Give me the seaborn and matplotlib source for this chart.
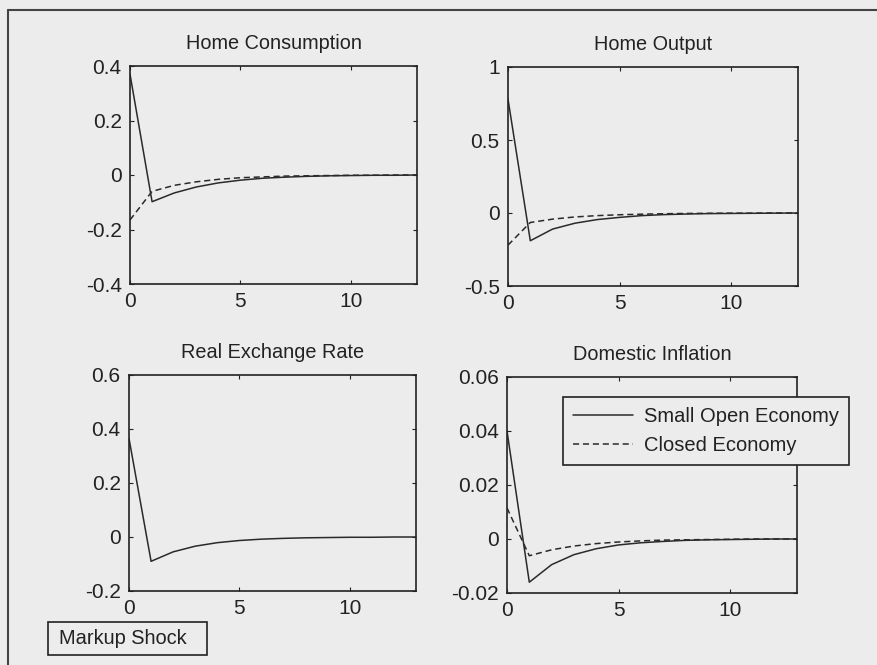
import numpy as np
import pandas as pd
import matplotlib
matplotlib.use("Agg")
import matplotlib.pyplot as plt
from matplotlib.lines import Line2D
from matplotlib.patches import Rectangle
import seaborn as sns

# Impulse responses to a markup shock, quarters 0..13
quarters = list(range(14))

cons_open = [0.37, -0.098, -0.066, -0.044, -0.029, -0.019, -0.012, -0.008, -0.005, -0.003, -0.002, -0.001, -0.001, 0.0]
cons_closed = [-0.165, -0.06, -0.038, -0.025, -0.016, -0.010, -0.007, -0.004, -0.003, -0.002, -0.001, -0.001, 0.0, 0.0]

out_open = [0.78, -0.19, -0.11, -0.07, -0.045, -0.03, -0.018, -0.011, -0.007, -0.004, -0.003, -0.002, -0.001, 0.0]
out_closed = [-0.22, -0.065, -0.042, -0.027, -0.018, -0.012, -0.008, -0.005, -0.003, -0.002, -0.001, -0.001, 0.0, 0.0]

rer_open = [0.365, -0.09, -0.055, -0.034, -0.021, -0.013, -0.008, -0.005, -0.003, -0.002, -0.001, -0.001, 0.0, 0.0]

infl_open = [0.040, -0.016, -0.0095, -0.0058, -0.0036, -0.0022, -0.0014, -0.0009, -0.0005, -0.0003, -0.0002, -0.0001, 0.0, 0.0]
infl_closed = [0.0115, -0.0062, -0.0040, -0.0026, -0.0017, -0.0011, -0.0007, -0.0004, -0.0003, -0.0002, -0.0001, 0.0, 0.0, 0.0]

titles = ["Home Consumption", "Home Output", "Real Exchange Rate", "Domestic Inflation"]
ylims = [(-0.4, 0.4), (-0.5, 1.0), (-0.2, 0.6), (-0.02, 0.06)]
yticks = [[-0.4, -0.2, 0, 0.2, 0.4], [-0.5, 0, 0.5, 1], [-0.2, 0, 0.2, 0.4, 0.6], [-0.02, 0, 0.02, 0.04, 0.06]]
yticklabels = [["-0.4", "-0.2", "0", "0.2", "0.4"], ["-0.5", "0", "0.5", "1"],
               ["-0.2", "0", "0.2", "0.4", "0.6"], ["-0.02", "0", "0.02", "0.04", "0.06"]]
xticks = [0, 5, 10]

series = [
    (cons_open, cons_closed),
    (out_open, out_closed),
    (rer_open, None),
    (infl_open, infl_closed),
]

bg = "#ececec"
ink = "#222222"
dash = (0, (4, 2.5))

sns.set_theme(style="white")
plt.rcParams["font.family"] = ["Liberation Sans", "DejaVu Sans"]

W, H = 877, 665
fig = plt.figure(figsize=(W / 100, H / 100), dpi=100, facecolor=bg)

# axes boxes in pixels: left, top, right, bottom
boxes = [(130, 66, 417, 284), (508, 67, 798, 286), (129, 375, 416, 591), (507, 377, 797, 593)]

for (l, t, r, b), title, ylim, yt, ytl, (s_open, s_closed) in zip(boxes, titles, ylims, yticks, yticklabels, series):
    ax = fig.add_axes([l / W, 1 - b / H, (r - l) / W, (b - t) / H], facecolor=bg)
    df = pd.DataFrame({"quarter": quarters, "open": s_open})
    sns.lineplot(data=df, x="quarter", y="open", ax=ax, color="#2a2a2a", linewidth=1.1, linestyle="-")
    if s_closed is not None:
        dfc = pd.DataFrame({"quarter": quarters, "closed": s_closed})
        sns.lineplot(data=dfc, x="quarter", y="closed", ax=ax, color="#2a2a2a", linewidth=1.1, linestyle=dash)
    ax.set_xlim(0, 13)
    ax.set_ylim(*ylim)
    ax.set_xticks(xticks)
    ax.set_xticklabels([str(v) for v in xticks])
    ax.set_yticks(yt)
    ax.set_yticklabels(ytl)
    ax.set_xlabel("")
    ax.set_ylabel("")
    ax.set_title(title, fontsize=14.3, color=ink, pad=12)
    ax.tick_params(direction="in", length=3, width=0.8, colors=ink, labelsize=15,
                   top=True, right=True, bottom=True, left=True, pad=6)
    for sp in ax.spines.values():
        sp.set_visible(True)
        sp.set_color(ink)
        sp.set_linewidth(1.2)

# legend on the inflation panel
handles = [Line2D([], [], color="#2a2a2a", linewidth=1.1, linestyle="-"),
           Line2D([], [], color="#2a2a2a", linewidth=1.1, linestyle=dash)]
leg = fig.legend(handles, ["Small Open Economy", "Closed Economy"], loc="upper left",
                 bbox_to_anchor=(563 / W, 1 - 397 / H), bbox_transform=fig.transFigure,
                 fontsize=14.5, frameon=True, fancybox=False, framealpha=1, facecolor=bg,
                 edgecolor=ink, borderaxespad=0, handlelength=3.0, handletextpad=0.5,
                 borderpad=0.5, labelspacing=0.5)
leg.get_frame().set_linewidth(1.2)
for txt in leg.get_texts():
    txt.set_color(ink)

# shock label box
fig.add_artist(Rectangle((48 / W, 1 - 655 / H), (207 - 48) / W, (655 - 622) / H,
                         transform=fig.transFigure, facecolor="none", edgecolor=ink, linewidth=1.2))
fig.text(59 / W, 1 - 638.5 / H, "Markup Shock", fontsize=14.4, color=ink, va="center", ha="left")

# outer figure frame (top and left edges)
fig.add_artist(Line2D([8 / W, 1.0], [1 - 10 / H, 1 - 10 / H], transform=fig.transFigure, color="#444444", linewidth=1.5))
fig.add_artist(Line2D([8 / W, 8 / W], [0.0, 1 - 10 / H], transform=fig.transFigure, color="#444444", linewidth=1.5))

fig.savefig("out.png", dpi=100, facecolor=bg)
